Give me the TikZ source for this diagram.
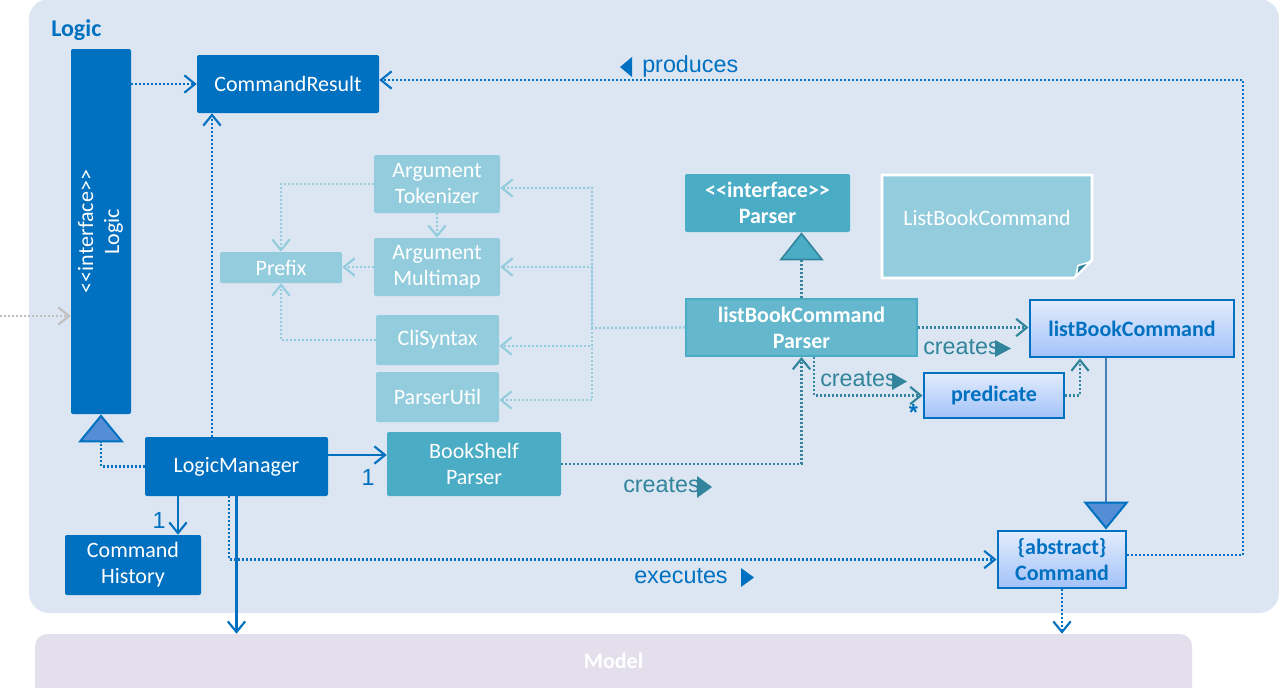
\documentclass[tikz,border=0pt]{standalone}
\usepackage{fontspec}
\usepackage{graphicx}
\setmainfont{Carlito}
\newfontfamily\arialf{Liberation Sans}
\usetikzlibrary{arrows.meta,calc}
\definecolor{pkg}{HTML}{DCE6F2}
\definecolor{mdl}{HTML}{E4DFEC}
\definecolor{dblue}{HTML}{0070C0}
\definecolor{tri}{HTML}{558ED5}
\definecolor{teal1}{HTML}{4BACC6}
\definecolor{teal2}{HTML}{93CDDD}
\definecolor{teal3}{HTML}{31849B}
\definecolor{tealp}{HTML}{64B7CC}
\definecolor{gtop}{HTML}{E2ECFD}
\definecolor{gbot}{HTML}{A3C2F8}
\definecolor{gry}{HTML}{BFBFBF}
\definecolor{lnblue}{HTML}{4A7EBB}
\newcommand\lguil{\mbox{<}\mbox{<}}
\newcommand\rguil{\mbox{>}\mbox{>}}
\begin{document}
\begin{tikzpicture}[x=0.75pt,y=-0.75pt,
  every node/.style={inner sep=0pt, align=center, font=\fontsize{16.5}{19.5}\selectfont},
  bf/.style={font=\fontsize{16.5}{19.5}\selectfont\bfseries},
  sz/.style 2 args={minimum width=#1*0.75pt, minimum height=#2*0.75pt},
  box/.style={rounded corners=1.5pt, text=white},
  dk/.style={box, fill=dblue},
  md/.style={box, fill=teal1},
  lt/.style={box, fill=teal2},
  grad/.style={top color=gtop, bottom color=gbot, draw=dblue, line width=2.2pt, text=dblue, bf},
  dots/.style={line width=1.8pt, dash pattern=on 1.5pt off 1.5pt},
  solidln/.style={line width=1.8pt},
  open/.style={-{Straight Barb[length=8pt,width=13pt,line width=1.6pt]}},
  lbl/.style={font=\arialf\fontsize{17.5}{20}\selectfont, anchor=base west},
]
\useasboundingbox (0,0) rectangle (1279,687);
% packages
\fill[pkg, rounded corners=15pt] (29,-1) rectangle (1279,613);
\fill[mdl, rounded corners=9pt] (35,700) -- (35,634) -- (1192,634) -- (1192,700);
\node[anchor=base west, text=dblue, font=\fontsize{18}{20}\selectfont\bfseries] (title) at (51,36) {Logic};
\node[sz={1157}{53}, text=white, bf] (Model) at (613.5,660.5) {Model};

% note
\fill[teal2, draw=white, line width=2pt] (882,175) -- (1092,175) -- (1092,260) -- (1074,278) -- (882,278) -- cycle;
\fill[teal3, draw=white, line width=1.2pt] (1090,262) -- (1078,265.5) -- (1076,276) -- cycle;
\node[text=white] (note) at (987,218) {ListBookCommand};

% nodes
\node[dk, sz={60}{365}] (Logic) at (101,231.5) {\rotatebox{90}{\begin{tabular}{@{}c@{}}\lguil interface\rguil\\Logic\end{tabular}}};
\node[dk, sz={182}{58}] (CR) at (288,84) {CommandResult};
\node[dk, sz={183}{59}] (LM) at (236.5,466.5) {LogicManager};
\node[dk, sz={136}{60}] (CH) at (133,565) {Command\\History};
\node[md, sz={174}{64}] (BS) at (474,464) {BookShelf\\Parser};
\node[lt, sz={126}{58}] (AT) at (437,184) {Argument\\Tokenizer};
\node[lt, sz={126}{58}] (AM) at (437,267) {Argument\\Multimap};
\node[lt, sz={122}{31}] (PF) at (281,267.5) {Prefix};
\node[lt, sz={123}{50}] (CS) at (437.5,340) {CliSyntax};
\node[lt, sz={123}{50}] (PU) at (437.5,397) {ParserUtil};
\node[md, sz={165}{58}, bf] (PI) at (767.5,203) {\lguil interface\rguil\\Parser};
\node[sz={231}{57}, fill=tealp, draw=teal1, line width=1.5pt, text=white, bf] (LBCP) at (801.5,327.5) {listBookCommand\\Parser};
\node[grad, sz={204}{57}] (LBC) at (1132,328.5) {listBookCommand};
\node[grad, sz={140}{45}] (PR) at (994,395.5) {predicate};
\node[grad, sz={128}{57}] (CMD) at (1062,559.5) {\{abstract\}\\Command};

% blue connectors
\coordinate (ext) at (0,316);
\draw[dots, gry, open] (ext) -- (ext -| Logic.west);
\draw[dots, dblue, open] (Logic.east |- CR.west) -- (CR.west);
\draw[dots, dblue, open] (LM.north -| 212,0) -- (212,0 |- CR.south);
\draw[dots, dblue, -{Triangle[length=21pt,width=34pt,fill=tri,line width=1.5pt]}] (LM.west) -| (Logic.south);
\draw[solidln, dblue, open] (LM.east |- 0,455) -- (BS.west |- 0,455);
\draw[solidln, dblue, open] (LM.south -| 178,0) -- (178,0 |- CH.north);
\draw[solidln, dblue, open] (LM.south) -- (LM.south |- Model.north);
\draw[dots, dblue, open] (LM.south -| 229,0) |- (CMD.west);
\draw[dots, dblue, open] (CMD.east |- 0,555) -| (1243,80) -- (CR.east |- 0,80);
\draw[dots, dblue, open] (CMD.south) -- (CMD.south |- Model.north);
\draw[lnblue, line width=2.2pt, -{Triangle[length=21pt,width=34pt,fill=tri,color=dblue,line width=1.5pt]}] (LBC.south -| 1106,0) -- (1106,0 |- CMD.north);

% teal connectors
\draw[dots, teal3, open] (BS.east) -| (LBCP.south);
\draw[dots, teal3, open] (LBCP.east) -- (LBCP.east -| LBC.west);
\draw[dots, teal3, open] (LBCP.south -| 814,0) |- (PR.west);
\draw[dots, teal3, open] (PR.east) -| (LBC.south -| 1080,0);
\draw[dots, teal3, -{Triangle[length=21pt,width=33pt,fill=teal1,color=teal3,line width=1.2pt]}] (LBCP.north) -- (LBCP.north |- PI.south);

% light teal connectors
\coordinate (J) at (592,328);
\draw[dots, teal2, open] (LBCP.west) -- (J) |- (AT.east |- 0,188);
\draw[dots, teal2, open] (J) |- (AM.east);
\draw[dots, teal2, open] (J) |- (CS.east |- 0,346);
\draw[dots, teal2, open] (J) |- (PU.east |- 0,400);
\draw[dots, teal2, open] (AT.south) -- (AM.north);
\draw[dots, teal2, open] (AT.west) -| (PF.north);
\draw[dots, teal2, open] (AM.west) -- (AM.west -| PF.east);
\draw[dots, teal2, open] (CS.west) -| (PF.south);

% labels
\node[lbl, text=dblue] (lprod) at (642,72) {produces};
\fill[dblue] (632,57) -- (632,77) -- (620,67) -- cycle;
\node[lbl, text=dblue] (lexec) at (634,583) {executes};
\fill[dblue] (741,568) -- (741,587) -- (754,577.5) -- cycle;
\node[lbl, text=teal3] (lcr1) at (623,492) {creates};
\fill[teal3] (697,476) -- (697,498) -- (712,487) -- cycle;
\node[lbl, text=teal3] (lcr2) at (923,354) {creates};
\fill[teal3] (995,340) -- (995,357) -- (1011,348.5) -- cycle;
\node[lbl, text=teal3] (lcr3) at (820,386) {creates};
\fill[teal3] (892,373) -- (892,390) -- (907,381.5) -- cycle;
\node[lbl, text=dblue, anchor=base] (m1) at (159,528) {1};
\node[lbl, text=dblue, anchor=base] (m2) at (368,485) {1};
\node[text=dblue, font=\arialf\bfseries\fontsize{17.5}{20}\selectfont, anchor=north] (m3) at (913.5,404) {*};
\end{tikzpicture}
\end{document}
